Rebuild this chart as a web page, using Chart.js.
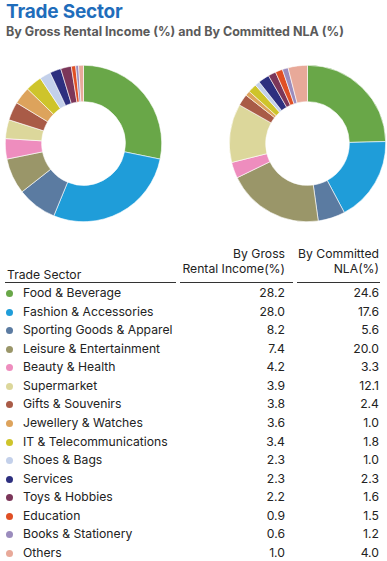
<!DOCTYPE html>
<html><head><meta charset="utf-8">
<script src="https://cdn.jsdelivr.net/npm/chart.js@4"></script>
<style>
html,body{margin:0;padding:0;background:#fff;width:387px;height:561px;overflow:hidden;font-family:Inter,"Noto Sans",sans-serif;color:#222;}
#title{position:absolute;left:6px;top:0px;font-size:19px;font-weight:700;color:#1f6dbb;letter-spacing:-0.2px;}
#sub{position:absolute;left:6px;top:24px;font-size:12.5px;font-weight:700;color:#5a5a5a;}
canvas{position:absolute;}
.h{position:absolute;font-size:12.2px;color:#222;line-height:15px;}
.rule{position:absolute;top:282px;height:1px;background:#333;}
.row{position:absolute;left:0;width:387px;height:18px;font-size:12.2px;line-height:18px;}
.dot{position:absolute;left:6px;top:6px;width:7px;height:7px;border-radius:50%;}
.lab{position:absolute;left:23px;}
.v1{position:absolute;right:102px;}
.v2{position:absolute;right:8px;}
</style></head><body>
<div id="title">Trade Sector</div>
<div id="sub">By Gross Rental Income (%) and By Committed NLA (%)</div>
<canvas id="c1" width="157" height="157" style="left:5px;top:65px;width:157px;height:157px"></canvas>
<canvas id="c2" width="157" height="157" style="left:229px;top:65px;width:157px;height:157px"></canvas>
<div class="h" style="left:7px;top:267px;">Trade Sector</div>
<div class="h" style="right:102px;top:246px;text-align:right;">By Gross<br>Rental Income(%)</div>
<div class="h" style="right:8px;top:246px;text-align:right;">By Committed<br>NLA(%)</div>
<div class="rule" style="left:5px;width:171px;"></div>
<div class="rule" style="left:180px;width:113px;"></div>
<div class="rule" style="left:297px;width:83px;"></div>
<div id="rows"></div>
<script>
const categories = ["Food & Beverage","Fashion & Accessories","Sporting Goods & Apparel","Leisure & Entertainment","Beauty & Health","Supermarket","Gifts & Souvenirs","Jewellery & Watches","IT & Telecommunications","Shoes & Bags","Services","Toys & Hobbies","Education","Books & Stationery","Others"];
const grossRentalIncome = [28.2,28.0,8.2,7.4,4.2,3.9,3.8,3.6,3.4,2.3,2.3,2.2,0.9,0.6,1.0];
const committedNLA = [24.6,17.6,5.6,20.0,3.3,12.1,2.4,1.0,1.8,1.0,2.3,1.6,1.5,1.2,4.0];
const colors = ["#69a748","#1f9dd9","#5b7ba1","#9a9669","#ee8dbe","#dcd79b","#a95b47","#dda35c","#cec42b","#c3d0ea","#2d2f7f","#7b3659","#e04f24","#9b8cbd","#e8a999"];

function makeChart(id, data){
  new Chart(document.getElementById(id), {
    type:'doughnut',
    data:{labels:categories, datasets:[{data:data, backgroundColor:colors, borderWidth:0.6, borderColor:'#ffffff'}]},
    options:{responsive:false, animation:false, cutout:'53.5%', layout:{padding:0},
      plugins:{legend:{display:false}, tooltip:{enabled:false}}}
  });
}
makeChart('c1', grossRentalIncome);
makeChart('c2', committedNLA);

const rows = document.getElementById('rows');
categories.forEach((c,i)=>{
  const r = document.createElement('div');
  r.className='row';
  r.style.top = (284 + i*18.57) + 'px';
  r.innerHTML = '<span class="dot" style="background:'+colors[i]+'"></span><span class="lab">'+c.replace(/&/g,'&amp;')+'</span><span class="v1">'+grossRentalIncome[i].toFixed(1)+'</span><span class="v2">'+committedNLA[i].toFixed(1)+'</span>';
  rows.appendChild(r);
});
</script>
</body></html>
